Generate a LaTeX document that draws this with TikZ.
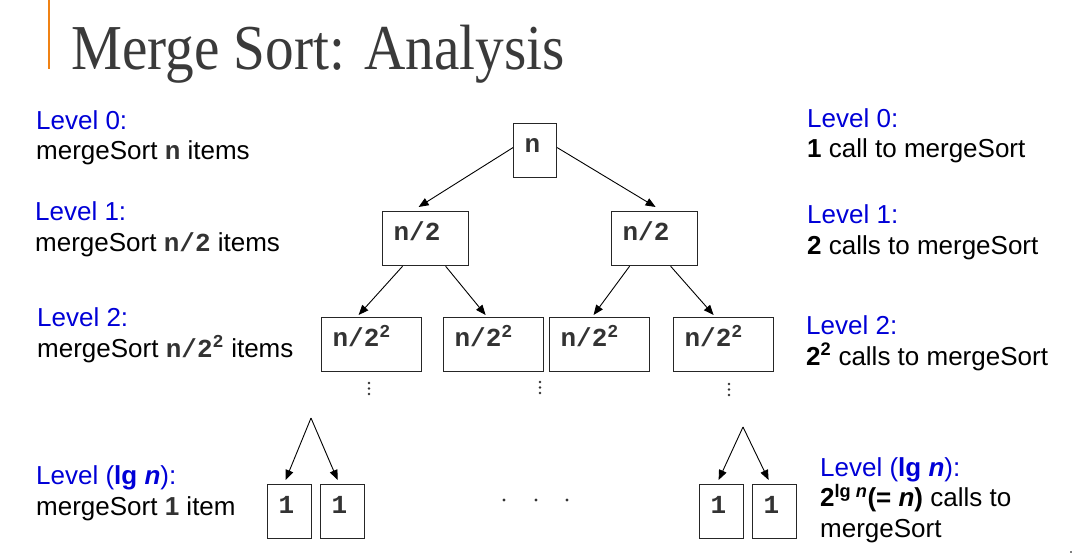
\documentclass[tikz,border=0pt]{standalone}
\usepackage{fontspec}
\setmainfont{Liberation Sans}
\setmonofont{Liberation Mono}
\newfontfamily\titlefont{Liberation Serif}
\usetikzlibrary{arrows.meta,calc}
\definecolor{lvlblue}{RGB}{0,0,215}
\definecolor{codegray}{RGB}{51,51,51}
\definecolor{titlegray}{RGB}{58,58,58}
\definecolor{barorange}{RGB}{240,130,20}
\newcommand{\cd}[1]{\textcolor{codegray}{\ttfamily\bfseries #1}}
\newcommand{\lv}[1]{\textcolor{lvlblue}{#1}}

\begin{document}
\begin{tikzpicture}[x=1pt,y=-1pt,
  box/.style={draw=black!85,line width=1.2pt,anchor=north west,minimum height=54pt,
    inner xsep=11pt,inner ysep=0pt,text width=#1,text height=16pt,text depth=12pt,
    align=left,font=\fontsize{26}{30}\ttfamily\bfseries,text=codegray},
  lbl/.style={anchor=base west,align=left,inner sep=0pt,font=\fontsize{26}{30.5}\selectfont},
  arr/.style={-{Triangle[length=10pt,width=8pt]},line width=0.9pt}]
\useasboundingbox (0,0) rectangle (1073,556);

% title
\draw [barorange,line width=2pt] (49,0) -- (49,69);
\node [anchor=base west,inner sep=0pt,font=\fontsize{64}{70}\titlefont,text=titlegray,xscale=0.895] (title) at (71,70) {Merge Sort: Analysis};

% tree
\node [box=21pt] (n) at (513,123) {n};
\node [box=64pt] (nl) at (382,211) {n/2};
\node [box=64pt] (nr) at (611,211) {n/2};
\node [box=78pt] (ma) at (321,317) {n/2\textsuperscript{2}};
\node [box=78pt] (mb) at (443,317) {n/2\textsuperscript{2}};
\node [box=78pt] (mc) at (549,317) {n/2\textsuperscript{2}};
\node [box=78pt] (md) at (673,317) {n/2\textsuperscript{2}};
\node [box=22pt] (pa) at (267,484) {1};
\node [box=22pt] (pb) at (320,484) {1};
\node [box=22pt] (pc) at (699,484) {1};
\node [box=22pt] (pd) at (752,484) {1};
\coordinate (la) at (311,418);
\coordinate (ra) at (743,427);

\draw [arr] ([yshift=3pt]n.west) -- ([xshift=-7pt,yshift=4pt]nl.north);
\draw [arr] ([yshift=3pt]n.east) -- ([xshift=1pt,yshift=4pt]nr.north);
\draw [arr] ([xshift=-23pt]nl.south) -- ([xshift=-13pt,yshift=2pt]ma.north);
\draw [arr] ([xshift=20pt]nl.south) -- ([xshift=-8pt,yshift=2pt]mb.north);
\draw [arr] ([xshift=-25pt]nr.south) -- ([xshift=-6pt,yshift=2pt]mc.north);
\draw [arr] ([xshift=16pt]nr.south) -- ([xshift=-10pt,yshift=2pt]md.north);
\draw [arr] (la) -- ([xshift=-4pt,yshift=4pt]pa.north);
\draw [arr] (la) -- ([xshift=-5pt,yshift=4pt]pb.north);
\draw [arr] (ra) -- ([xshift=-3pt,yshift=4pt]pc.north);
\draw [arr] (ra) -- ([xshift=-6pt,yshift=4pt]pd.north);

% dots
\foreach \x/\y in {369/383,540/382,729/384}{
    \foreach \k in {0,1,2}
        \fill [codegray] (\x,\y+5.5*\k) circle (1.3pt);
}
\foreach \x in {504,536,567}{
    \fill [codegray] (\x,500) circle (1.6pt);
}

% level labels (anchored at the baseline of the last line)
\node [lbl] (l0) at (36,160) {\lv{Level 0:}\\mergeSort \cd{n} items};
\node [lbl] (l1) at (35,251) {\lv{Level 1:}\\mergeSort \cd{n/2} items};
\node [lbl] (l2) at (37,357) {\lv{Level 2:}\\mergeSort \cd{n/2\textsuperscript{2}} items};
\node [lbl] (l3) at (36,515) {\lv{Level (\textbf{lg \textit{n}}):}\\mergeSort \textbf{\textcolor{codegray}{1}} item};
\node [lbl] (r0) at (807,158) {\lv{Level 0:}\\\textbf{1} call to mergeSort};
\node [lbl] (r1) at (807,254) {\lv{Level 1:}\\\textbf{2} calls to mergeSort};
\node [lbl] (r2) at (806,365) {\lv{Level 2:}\\\textbf{2\textsuperscript{2}} calls to mergeSort};
\node [lbl] (r3) at (820,537) {\lv{Level (\textbf{lg \textit{n}}):}\\\textbf{2\textsuperscript{lg \textit{n}}(= \textit{n})} calls to\\mergeSort};

\fill [gray] (1070,551) rectangle (1072,553);
\end{tikzpicture}
\end{document}
